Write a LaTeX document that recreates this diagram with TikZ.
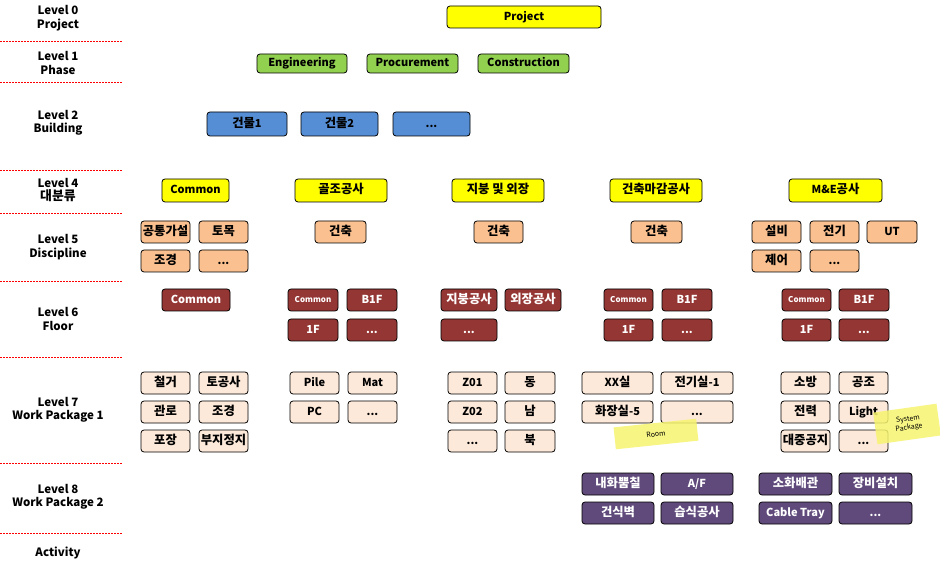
\documentclass[tikz,border=0pt]{standalone}
\usepackage{fontspec}
\setmainfont{Noto Sans CJK KR}
\newfontfamily\krf{Noto Sans CJK KR}[Scale=1.12]
\newcommand\kr[1]{{\krf #1}}
\definecolor{cyel}{HTML}{FFFF00}
\definecolor{cgrn}{HTML}{92D050}
\definecolor{cblu}{HTML}{558ED5}
\definecolor{cpch}{HTML}{FAC090}
\definecolor{cdred}{HTML}{943634}
\definecolor{clpk}{HTML}{FDE9D9}
\definecolor{cpur}{HTML}{604A7B}
\definecolor{cnote}{HTML}{F6F46E}
\definecolor{csep}{HTML}{FF0000}
\newcommand\bx[7]{\node[#6, minimum width={(#4-#2)*1pt}, minimum height={(#5-#3)*1pt}] (#1) at ({(#2+#4)/2},{(#3+#5)/2}) {#7};}
\tikzset{
 bx/.style={draw=black, line width=0.8pt, rounded corners=3pt, inner sep=0pt, text height=8.5pt, text depth=2pt, font=\bfseries\fontsize{11}{13}\selectfont},
 yel/.style={bx, fill=cyel},
 grn/.style={bx, fill=cgrn},
 blu/.style={bx, fill=cblu},
 pch/.style={bx, fill=cpch},
 dred/.style={bx, fill=cdred, text=white},
 dreds/.style={dred, text height=6pt, text depth=1.5pt, font=\bfseries\fontsize{8}{10}\selectfont},
 lpk/.style={bx, fill=clpk},
 pur/.style={bx, fill=cpur, text=white},
 lvl/.style={align=center, inner sep=0pt, font=\bfseries\fontsize{11.5}{13.5}\selectfont},
 sepline/.style={draw=csep, dash pattern=on 2pt off 1pt, line width=0.6pt},
 note/.style={fill=cnote, inner sep=0pt, align=center, font=\fontsize{7}{8.5}\selectfont}
}
\begin{document}
\begin{tikzpicture}[x=1pt,y=-1pt]
\useasboundingbox[fill=white] (0,0) rectangle (940,569);
% separators
\foreach \yy [count=\i] in {41,82,170,213,281,357,463,533}
  \draw[sepline] (0,\yy) -- (122,\yy) coordinate (s\i);
% level labels
\node[lvl] (l0) at (58,18) {Level 0\\Project};
\node[lvl] (l1) at (58,63) {Level 1\\Phase};
\node[lvl] (l2) at (58,123) {Level 2\\Building};
\node[lvl] (l4) at (58,190) {Level 4\\\kr{대분류}};
\node[lvl] (l5) at (58,247) {Level 5\\Discipline};
\node[lvl] (l6) at (58,319) {Level 6\\Floor};
\node[lvl] (l7) at (58,410) {Level 7\\Work Package 1};
\node[lvl] (l8) at (58,497) {Level 8\\Work Package 2};
\node[lvl] (la) at (58,553) {Activity};
% level 0-2
\bx{proj}{447}{6}{601}{28}{yel}{Project}
\bx{eng}{257}{54}{347}{73}{grn}{Engineering}
\bx{proc}{367}{54}{458}{73}{grn}{Procurement}
\bx{cons}{478}{54}{569}{73}{grn}{Construction}
\bx{b1}{207}{112}{287}{136}{blu}{\kr{건물}1}
\bx{b2}{301}{112}{378}{136}{blu}{\kr{건물}2}
\bx{b3}{393}{112}{470}{136}{blu}{...}
% level 4
\bx{c1}{162}{179}{229}{202}{yel}{Common}
\bx{c2}{295}{179}{387}{202}{yel}{\kr{골조공사}}
\bx{c3}{452}{179}{544}{202}{yel}{\kr{지붕 및 외장}}
\bx{c4}{610}{179}{702}{202}{yel}{\kr{건축마감공사}}
\bx{c5}{789}{179}{882}{202}{yel}{M\&E\kr{공사}}
% level 5
\bx{d1}{141}{221}{190}{243}{pch}{\kr{공통가설}}
\bx{d2}{199}{221}{248}{243}{pch}{\kr{토목}}
\bx{d3}{141}{250}{190}{272}{pch}{\kr{조경}}
\bx{d4}{199}{250}{248}{272}{pch}{...}
\bx{d5}{315}{221}{366}{243}{pch}{\kr{건축}}
\bx{d6}{474}{221}{523}{243}{pch}{\kr{건축}}
\bx{d7}{631}{221}{682}{243}{pch}{\kr{건축}}
\bx{d8}{752}{221}{801}{243}{pch}{\kr{설비}}
\bx{d9}{810}{221}{859}{243}{pch}{\kr{전기}}
\bx{d10}{867}{221}{917}{243}{pch}{UT}
\bx{d11}{752}{250}{801}{272}{pch}{\kr{제어}}
\bx{d12}{810}{250}{859}{272}{pch}{...}
% level 6
\bx{f1}{162}{289}{230}{311}{dred}{Common}
\bx{f2}{288}{289}{338}{311}{dreds}{Common}
\bx{f3}{347}{289}{397}{311}{dred}{B1F}
\bx{f4}{288}{319}{338}{341}{dred}{1F}
\bx{f5}{347}{319}{397}{341}{dred}{...}
\bx{f6}{441}{289}{497}{311}{dred}{\kr{지붕공사}}
\bx{f7}{505}{289}{561}{311}{dred}{\kr{외장공사}}
\bx{f8}{441}{319}{497}{341}{dred}{...}
\bx{f9}{604}{289}{653}{311}{dreds}{Common}
\bx{f10}{662}{289}{712}{311}{dred}{B1F}
\bx{f11}{604}{319}{653}{341}{dred}{1F}
\bx{f12}{662}{319}{712}{341}{dred}{...}
\bx{f13}{782}{289}{831}{311}{dreds}{Common}
\bx{f14}{839}{289}{889}{311}{dred}{B1F}
\bx{f15}{782}{319}{831}{341}{dred}{1F}
\bx{f16}{839}{319}{889}{341}{dred}{...}
% level 7
\bx{w1}{141}{372}{190}{394}{lpk}{\kr{철거}}
\bx{w2}{199}{372}{248}{394}{lpk}{\kr{토공사}}
\bx{w3}{141}{401}{190}{423}{lpk}{\kr{관로}}
\bx{w4}{199}{401}{248}{423}{lpk}{\kr{조경}}
\bx{w5}{141}{430}{190}{452}{lpk}{\kr{포장}}
\bx{w6}{199}{430}{248}{452}{lpk}{\kr{부지정지}}
\bx{w7}{290}{372}{339}{394}{lpk}{Pile}
\bx{w8}{348}{372}{397}{394}{lpk}{Mat}
\bx{w9}{290}{401}{339}{423}{lpk}{PC}
\bx{w10}{348}{401}{397}{423}{lpk}{...}
\bx{w11}{448}{372}{497}{394}{lpk}{Z01}
\bx{w12}{505}{372}{555}{394}{lpk}{\kr{동}}
\bx{w13}{448}{401}{497}{423}{lpk}{Z02}
\bx{w14}{505}{401}{555}{423}{lpk}{\kr{남}}
\bx{w15}{448}{430}{497}{452}{lpk}{...}
\bx{w16}{505}{430}{555}{452}{lpk}{\kr{북}}
\bx{w17}{582}{372}{653}{394}{lpk}{XX\kr{실}}
\bx{w18}{661}{372}{733}{394}{lpk}{\kr{전기실}-1}
\bx{w19}{582}{401}{653}{423}{lpk}{\kr{화장실}-5}
\bx{w20}{661}{401}{733}{423}{lpk}{...}
\bx{w21}{781}{372}{830}{394}{lpk}{\kr{소방}}
\bx{w22}{839}{372}{888}{394}{lpk}{\kr{공조}}
\bx{w23}{781}{401}{830}{423}{lpk}{\kr{전력}}
\bx{w24}{839}{401}{888}{423}{lpk}{Light}
\bx{w25}{781}{430}{830}{452}{lpk}{\kr{대중공지}}
\bx{w26}{839}{430}{888}{452}{lpk}{...}
% level 8
\bx{p1}{582}{473}{654}{495}{pur}{\kr{내화뿜칠}}
\bx{p2}{661}{473}{733}{495}{pur}{A/F}
\bx{p3}{582}{502}{654}{524}{pur}{\kr{건식벽}}
\bx{p4}{661}{502}{733}{524}{pur}{\kr{습식공사}}
\bx{p5}{759}{473}{832}{495}{pur}{\kr{소화배관}}
\bx{p6}{839}{473}{912}{495}{pur}{\kr{장비설치}}
\bx{p7}{759}{502}{832}{524}{pur}{Cable Tray}
\bx{p8}{839}{502}{912}{524}{pur}{...}
% sticky notes
\node[note, minimum width=83pt, minimum height=22pt, rotate=6, opacity=0.85, text opacity=1] (room) at (656,434) {Room};
\node[note, minimum width=64pt, minimum height=32pt, rotate=8, opacity=0.85, text opacity=1] (sysp) at (907,424) {\ \ System\\\ \ Package};
\end{tikzpicture}
\end{document}
